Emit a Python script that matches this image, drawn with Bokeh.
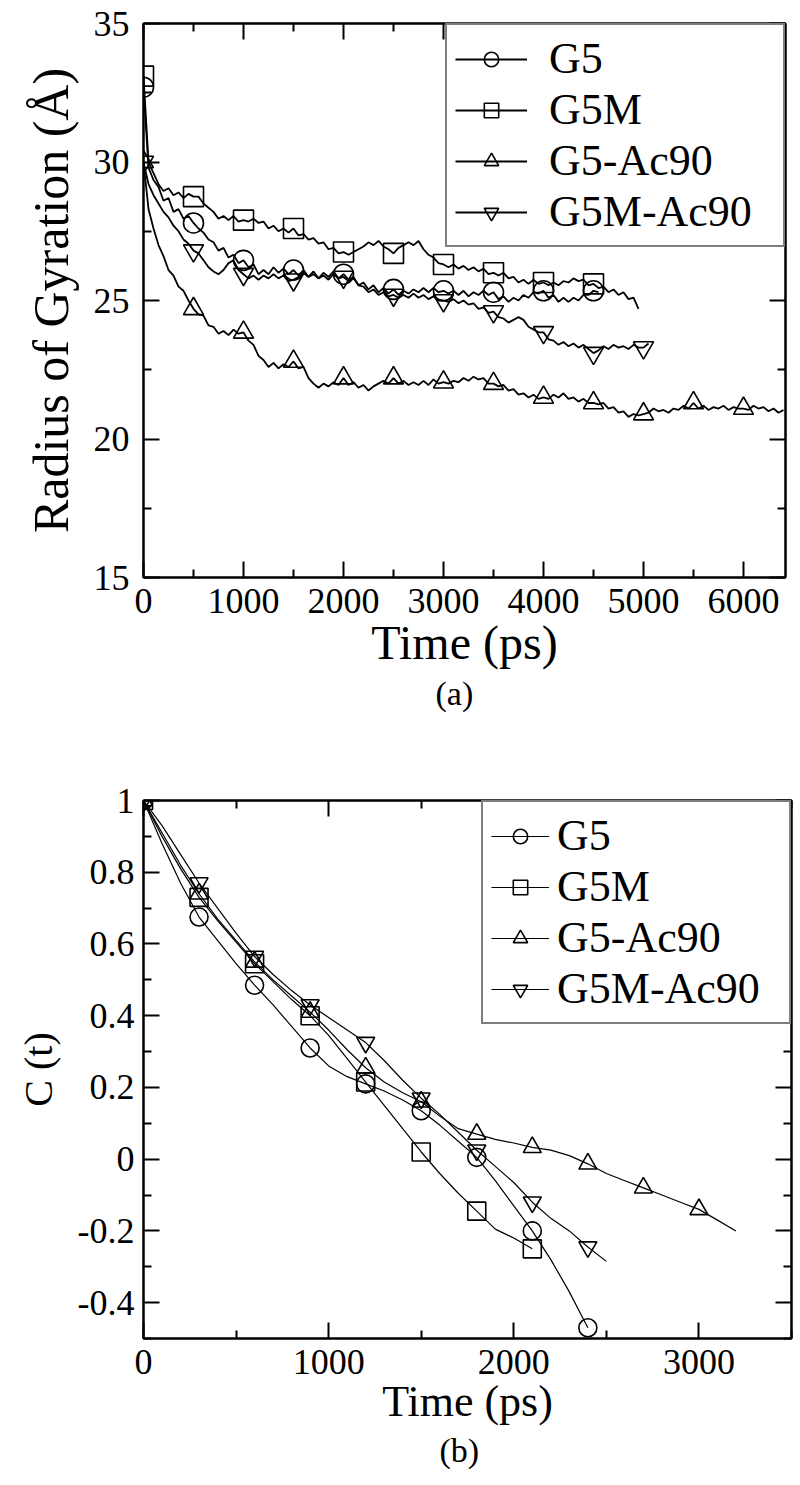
from bokeh.plotting import figure
from bokeh.models import (Range1d, LinearAxis, FixedTicker, Legend, LegendItem, Title,
                          CustomJSTickFormatter)
from bokeh.layouts import column
from bokeh.embed import file_html
from bokeh.resources import INLINE

FONT = "Liberation Serif"

# ---------------- (a) Radius of gyration, sampled every 50 ps ----------------
rg_step = 50
rg_g5 = [32.7, 29.8, 29.35, 29.1, 28.6, 28.7, 28.2, 28.3, 27.95, 28.05,
         27.8, 27.6, 27.45, 27.2, 27.1, 26.8, 26.9, 26.55, 26.65, 26.35,
         26.45, 26.2, 26.3, 25.95, 26.1, 25.95, 26.2, 26.0, 26.15, 25.95,
         26.1, 25.9, 26.1, 25.85, 26.05, 25.8, 26.0, 25.85, 26.05, 25.8,
         25.95, 25.75, 25.85, 25.55, 25.65, 25.4, 25.55, 25.3, 25.45, 25.25,
         25.4, 25.2, 25.35, 25.25, 25.4, 25.3, 25.45, 25.3, 25.45, 25.3,
         25.35, 25.25, 25.35, 25.2, 25.35, 25.15, 25.3, 25.2, 25.35, 25.2,
         25.3, 25.05, 25.15, 24.95, 25.1, 25.0, 25.2, 25.1, 25.3, 25.25,
         25.35, 25.1, 25.2, 24.95, 25.1, 24.95, 25.1, 25.0, 25.2, 25.2,
         25.35, 25.3]
rg_g5m = [33.1, 30.0, 29.6, 29.2, 28.95, 29.05, 28.8, 28.9, 28.7, 28.85,
          28.75, 28.75, 28.5, 28.35, 28.2, 27.95, 28.05, 27.9, 28.05, 27.85,
          27.9, 27.85, 27.95, 27.8, 27.85, 27.6, 27.7, 27.5, 27.6, 27.45,
          27.6, 27.35, 27.4, 27.2, 27.25, 27.05, 27.1, 26.85, 26.9, 26.7,
          26.75, 26.65, 26.75, 26.85, 26.95, 27.1, 27.0, 27.15, 26.95, 26.85,
          26.7, 26.9, 27.0, 27.1, 27.0, 27.15, 26.85, 26.65, 26.55, 26.35,
          26.3, 26.2, 26.3, 26.15, 26.25, 26.1, 26.2, 26.05, 26.15, 25.95,
          26.0, 25.9, 26.0, 25.8, 25.85, 25.65, 25.75, 25.6, 25.75, 25.6,
          25.65, 25.55, 25.65, 25.55, 25.7, 25.65, 25.8, 25.7, 25.75, 25.55,
          25.6, 25.45, 25.5, 25.3, 25.4, 25.2, 25.3, 25.05, 25.1, 24.7]
rg_g5ac = [30.0, 28.3, 27.6, 27.0, 26.6, 26.1, 25.9, 25.5, 25.35, 25.0,
           24.7, 24.5, 24.45, 24.1, 24.05, 23.8, 23.9, 23.75, 23.95, 23.8,
           23.85, 23.55, 23.4, 23.0, 22.85, 22.6, 22.75, 22.55, 22.7, 22.6,
           22.8, 22.55, 22.6, 22.2, 22.0, 21.85, 22.0, 21.9, 22.05, 21.95,
           22.2, 21.95, 22.05, 21.85, 21.95, 21.75, 21.9, 22.0, 22.1, 22.0,
           22.2, 22.0, 22.1, 21.95, 22.05, 21.95, 22.1, 21.95, 22.15, 22.0,
           22.05, 22.0, 22.1, 22.05, 22.2, 22.1, 22.25, 22.15, 22.2, 22.0,
           22.0, 21.9, 21.95, 21.75, 21.8, 21.6, 21.65, 21.5, 21.6, 21.45,
           21.5, 21.45, 21.6, 21.5, 21.65, 21.45, 21.5, 21.35, 21.45, 21.3,
           21.3, 21.25, 21.3, 21.1, 21.15, 20.95, 21.0, 20.8, 20.9, 20.85,
           20.9, 20.95, 21.1, 21.0, 21.05, 20.95, 21.1, 21.05, 21.2, 21.1,
           21.3, 21.1, 21.2, 21.05, 21.15, 21.1, 21.2, 21.05, 21.15, 21.1,
           21.1, 21.05, 21.2, 21.1, 21.15, 21.0, 21.1, 20.95, 21.05]
rg_g5mac = [30.0, 29.2, 28.8, 28.5, 28.2, 28.0, 27.7, 27.5, 27.2, 27.05,
            26.8, 26.7, 26.45, 26.2, 26.05, 25.95, 26.1, 26.35, 26.45, 26.1,
            25.95, 25.8, 25.9, 25.75, 25.9, 25.8, 25.95, 25.8, 25.9, 25.7,
            25.75, 25.85, 26.0, 25.85, 25.95, 25.8, 25.9, 25.75, 25.95, 25.8,
            25.85, 25.7, 25.8, 25.55, 25.5, 25.3, 25.4, 25.2, 25.3, 25.15,
            25.2, 25.1, 25.2, 25.1, 25.25, 25.1, 25.2, 25.05, 25.15, 25.0,
            25.0, 24.95, 25.05, 24.9, 25.0, 24.85, 24.9, 24.7, 24.75, 24.55,
            24.6, 24.4, 24.35, 24.2, 24.3, 24.4, 24.3, 24.05, 23.95, 23.85,
            23.85, 23.6, 23.55, 23.4, 23.5, 23.35, 23.45, 23.3, 23.4, 23.25,
            23.1, 23.2, 23.35, 23.25, 23.4, 23.3, 23.35, 23.25, 23.4, 23.3,
            23.3, 23.45]
rg_marker_every = 500

# ---------------- (b) C(t), sampled every 100 ps ----------------
ct_step = 100
ct_g5 = [1.0, 0.88, 0.77, 0.675, 0.61, 0.545, 0.485, 0.43, 0.37, 0.31,
         0.26, 0.23, 0.21, 0.19, 0.165, 0.135, 0.095, 0.05, 0.005, -0.06,
         -0.13, -0.2, -0.28, -0.37, -0.47]
ct_g5m = [1.0, 0.90, 0.81, 0.73, 0.665, 0.605, 0.545, 0.495, 0.445, 0.40,
          0.345, 0.28, 0.215, 0.15, 0.085, 0.02, -0.04, -0.095, -0.145, -0.195,
          -0.22, -0.25]
ct_g5ac = [1.0, 0.91, 0.82, 0.74, 0.67, 0.61, 0.55, 0.50, 0.455, 0.41,
           0.36, 0.305, 0.255, 0.215, 0.185, 0.16, 0.12, 0.085, 0.07, 0.055,
           0.045, 0.033, 0.025, 0.01, -0.013, -0.04, -0.06, -0.08, -0.10, -0.12,
           -0.14, -0.17, -0.20]
ct_g5mac = [1.0, 0.93, 0.85, 0.77, 0.70, 0.63, 0.565, 0.515, 0.47, 0.43,
            0.395, 0.36, 0.325, 0.275, 0.22, 0.17, 0.125, 0.075, 0.025, -0.02,
            -0.065, -0.12, -0.165, -0.2, -0.245, -0.285]
ct_marker_every = 300

series_names = ["G5", "G5M", "G5-Ac90", "G5M-Ac90"]
series_markers = ["circle", "square", "triangle", "inverted_triangle"]

rg_xticks = [0, 1000, 2000, 3000, 4000, 5000, 6000]
rg_xminor = [500, 1500, 2500, 3500, 4500, 5500]
rg_yticks = [15, 20, 25, 30, 35]
rg_yminor = [17.5, 22.5, 27.5, 32.5]
ct_xticks = [0, 1000, 2000, 3000]
ct_xminor = [500, 1500, 2500, 3500]
ct_yticks = [-0.4, -0.2, 0.0, 0.2, 0.4, 0.6, 0.8, 1.0]
ct_yminor = [-0.5, -0.3, -0.1, 0.1, 0.3, 0.5, 0.7, 0.9]
ct_ytick_labels = ["-0.4", "-0.2", "0", "0.2", "0.4", "0.6", "0.8", "1"]


def times(vals, step):
    return [i * step for i in range(len(vals))]


def style_axis(ax, size, labels=True):
    ax.axis_line_width = 2
    ax.axis_line_color = "black"
    ax.major_tick_in = 16
    ax.major_tick_out = 0
    ax.minor_tick_in = 8
    ax.minor_tick_out = 0
    ax.major_tick_line_width = 2
    ax.minor_tick_line_width = 2
    ax.major_tick_line_color = "black"
    ax.minor_tick_line_color = "black"
    ax.major_label_text_font = FONT
    ax.major_label_text_color = "black"
    ax.axis_label_text_font = FONT
    ax.axis_label_text_font_style = "normal"
    ax.axis_label_text_color = "black"
    if labels:
        ax.major_label_text_font_size = size
    else:
        ax.formatter = CustomJSTickFormatter(code="return ''")
        ax.major_label_text_font_size = "1px"
        ax.major_label_standoff = 0


def build(data, step, every, xr, yr, xt, xminor, yt, yminor, fw, fh, borders,
          tick_size, xstand, ystand, xlabel, ylabel, label_size, ylabel_size,
          ylab_stand, msize, lw, leg_size, leg_glyph_w, leg_pad, leg_standoff,
          leg_label_w, caption, cap_offset, cap_stand):
    p = figure(frame_width=fw, frame_height=fh, x_range=Range1d(*xr), y_range=Range1d(*yr),
               output_backend="svg", toolbar_location=None,
               min_border_left=borders[0], min_border_right=borders[1],
               min_border_top=borders[2], min_border_bottom=borders[3])
    p.xgrid.visible = False
    p.ygrid.visible = False
    p.outline_line_color = "black"
    p.outline_line_width = 2
    p.background_fill_color = "white"
    p.border_fill_color = "white"

    p.xaxis[0].ticker = FixedTicker(ticks=xt, minor_ticks=xminor)
    p.yaxis[0].ticker = FixedTicker(ticks=yt, minor_ticks=yminor)
    style_axis(p.xaxis[0], tick_size)
    style_axis(p.yaxis[0], tick_size)
    p.xaxis[0].axis_label = xlabel
    p.yaxis[0].axis_label = ylabel
    p.xaxis[0].axis_label_text_font_size = label_size
    p.yaxis[0].axis_label_text_font_size = ylabel_size
    p.xaxis[0].major_label_standoff = xstand
    p.yaxis[0].major_label_standoff = ystand
    p.xaxis[0].axis_label_standoff = 0
    p.yaxis[0].axis_label_standoff = ylab_stand

    top = LinearAxis(ticker=FixedTicker(ticks=xt, minor_ticks=xminor))
    right = LinearAxis(ticker=FixedTicker(ticks=yt, minor_ticks=yminor))
    style_axis(top, tick_size, labels=False)
    style_axis(right, tick_size, labels=False)
    p.add_layout(top, "above")
    p.add_layout(right, "right")

    items = []
    for name, mk, vals in zip(series_names, series_markers, data):
        t = times(vals, step)
        lr = p.line(t, vals, line_color="black", line_width=lw)
        mt = [ti for ti in t if ti % every == 0]
        mv = [v for ti, v in zip(t, vals) if ti % every == 0]
        sr = p.scatter(mt, mv, marker=mk, size=msize, fill_color=None,
                       line_color="black", line_width=1.6)
        items.append(LegendItem(label=name, renderers=[lr, sr]))

    leg = Legend(items=items, location="top_right", margin=0,
                 label_text_font=FONT, label_text_font_size=leg_size,
                 label_text_color="black", label_width=leg_label_w,
                 glyph_width=leg_glyph_w, glyph_height=36, padding=leg_pad,
                 label_standoff=leg_standoff, spacing=0,
                 border_line_color="black", border_line_width=2,
                 background_fill_color="white", background_fill_alpha=1.0)
    p.add_layout(leg)

    cap = Title(text=caption, align="left", text_font=FONT, text_font_size="34px",
                text_font_style="normal", text_color="black",
                offset=cap_offset, standoff=cap_stand)
    p.add_layout(cap, "below")
    return p


p1 = build([rg_g5, rg_g5m, rg_g5ac, rg_g5mac], rg_step, rg_marker_every,
           (0, 6420), (15, 35), rg_xticks, rg_xminor, rg_yticks, rg_yminor,
           642, 554, (143, 10, 23, 183), "36px", 11, 14,
           "Time (ps)", "Radius of Gyration (Å)", "48px", "50px", 12,
           20, 1.8, "44px", 72, 8, 22, 226, "(a)", 292, 2)

p2 = build([ct_g5, ct_g5m, ct_g5ac, ct_g5mac], ct_step, ct_marker_every,
           (0, 3500), (-0.5, 1.0), ct_xticks, ct_xminor, ct_yticks, ct_yminor,
           648, 538, (139, 10, 40, 139), "36px", 11, 9,
           "Time (ps)", "C (t)", "44px", "40px", 14,
           18, 1.2, "44px", 58, 8, 8, 224, "(b)", 296, 2)
p2.yaxis[0].major_label_overrides = {v: s for v, s in zip(ct_yticks, ct_ytick_labels)}

layout = column(p1, p2)
open("out.html", "w").write(file_html(layout, INLINE))
